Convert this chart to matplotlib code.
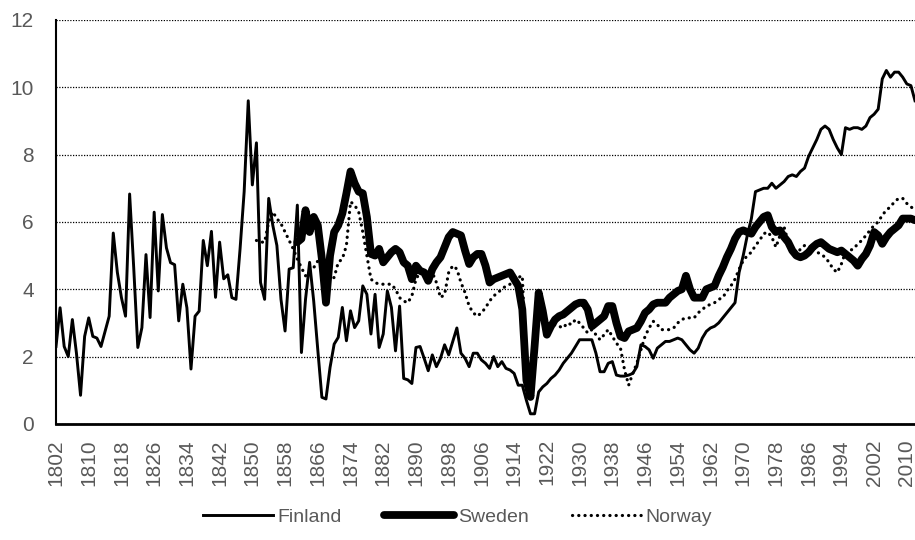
import numpy as np
import matplotlib
matplotlib.use("Agg")
import matplotlib.pyplot as plt

plt.rcParams.update({
    'font.family': ['Liberation Sans', 'DejaVu Sans'],
    'font.size': 15,
    'figure.dpi': 100,
})

TEXT_GREY = '#595959'

# yearly series, 1802-2012
first_year = 1802
last_year = 2012
years = np.arange(first_year, last_year + 1)

finland = [
    2.3, 3.45, 2.3, 2.0, 3.1, 2.1, 0.85, 2.6,            # 1802-1809
    3.15, 2.6, 2.55, 2.3, 2.75, 3.2, 5.67, 4.5, 3.75, 3.2,   # 1810s
    6.83, 4.64, 2.27, 2.86, 5.03, 3.16, 6.29, 3.95, 6.22, 5.23,  # 1820s
    4.79, 4.73, 3.06, 4.15, 3.45, 1.63, 3.2, 3.35, 5.45, 4.7,    # 1830s
    5.72, 3.76, 5.4, 4.31, 4.43, 3.75, 3.7, 5.2, 6.9, 9.6,       # 1840s
    7.1, 8.35, 4.2, 3.7, 6.7, 5.9, 5.3, 3.7, 2.76, 4.6,          # 1850s
    4.64, 6.5, 2.12, 3.7, 4.8, 3.65, 2.2, 0.79, 0.74, 1.68,      # 1860s
    2.37, 2.57, 3.46, 2.47, 3.36, 2.86, 3.06, 4.1, 3.85, 2.67,   # 1870s
    3.85, 2.27, 2.67, 3.95, 3.46, 2.17, 3.5, 1.35, 1.31, 1.2,    # 1880s
    2.27, 2.3, 1.95, 1.58, 2.05, 1.7, 1.95, 2.35, 2.05, 2.45,    # 1890s
    2.85, 2.1, 1.95, 1.7, 2.1, 2.1, 1.9, 1.8, 1.65, 2.0,         # 1900s
    1.7, 1.85, 1.65, 1.6, 1.5, 1.15, 1.15, 0.7, 0.3, 0.3,        # 1910s
    0.95, 1.1, 1.2, 1.35, 1.45, 1.6, 1.8, 1.95, 2.1, 2.3,        # 1920s
    2.5, 2.5, 2.5, 2.5, 2.1, 1.55, 1.55, 1.8, 1.85, 1.45,        # 1930s
    1.42, 1.42, 1.45, 1.5, 1.7, 2.35, 2.3, 2.2, 1.95, 2.25,      # 1940s
    2.35, 2.45, 2.45, 2.5, 2.55, 2.5, 2.35, 2.2, 2.1, 2.25,      # 1950s
    2.55, 2.75, 2.85, 2.9, 3.0, 3.15, 3.3, 3.45, 3.6, 4.5,       # 1960s
    5.0, 5.6, 6.1, 6.9, 6.95, 7.0, 7.0, 7.15, 7.0, 7.1,          # 1970s
    7.2, 7.35, 7.4, 7.35, 7.5, 7.6, 7.95, 8.2, 8.45, 8.75,       # 1980s
    8.85, 8.75, 8.45, 8.2, 8.0, 8.8, 8.75, 8.8, 8.8, 8.75,       # 1990s
    8.85, 9.1, 9.2, 9.35, 10.25, 10.5, 10.3, 10.45, 10.45, 10.3,  # 2000s
    10.1, 10.05, 9.6,                                             # 2010-2012
]

sweden_start = 1861
sweden = [
    5.4, 5.5, 6.35, 5.7, 6.15, 5.9, 4.9, 3.6, 5.0,               # 1861-1869
    5.7, 5.9, 6.25, 6.85, 7.5, 7.15, 6.9, 6.85, 6.15, 5.05,      # 1870s
    5.0, 5.2, 4.8, 4.95, 5.1, 5.2, 5.1, 4.8, 4.7, 4.3,           # 1880s
    4.7, 4.55, 4.5, 4.25, 4.6, 4.8, 4.95, 5.25, 5.55, 5.7,       # 1890s
    5.65, 5.6, 5.15, 4.75, 4.95, 5.05, 5.05, 4.7, 4.2, 4.3,      # 1900s
    4.35, 4.4, 4.45, 4.5, 4.3, 4.1, 3.4, 1.3, 0.8, 2.3,          # 1910s
    3.9, 3.35, 2.65, 2.9, 3.1, 3.2, 3.25, 3.35, 3.45, 3.55,      # 1920s
    3.6, 3.6, 3.4, 2.9, 3.0, 3.1, 3.2, 3.5, 3.5, 3.0,            # 1930s
    2.6, 2.55, 2.75, 2.8, 2.85, 3.05, 3.3, 3.4, 3.55, 3.6,       # 1940s
    3.6, 3.6, 3.75, 3.85, 3.95, 4.0, 4.4, 4.0, 3.75, 3.75,       # 1950s
    3.75, 4.0, 4.05, 4.1, 4.4, 4.65, 4.95, 5.2, 5.5, 5.7,        # 1960s
    5.75, 5.7, 5.65, 5.85, 6.0, 6.15, 6.2, 5.85, 5.7, 5.75,      # 1970s
    5.55, 5.4, 5.15, 5.0, 4.95, 5.0, 5.1, 5.25, 5.35, 5.4,       # 1980s
    5.3, 5.2, 5.15, 5.1, 5.15, 5.05, 4.95, 4.85, 4.7, 4.9,       # 1990s
    5.05, 5.3, 5.7, 5.6, 5.35, 5.55, 5.7, 5.8, 5.9, 6.1,         # 2000s
    6.1, 6.1, 6.05,                                               # 2010-2012
]

norway_start = 1851
norway = [
    5.45, 5.4, 5.4, 6.0, 6.3, 6.1, 5.95, 5.7, 5.45,              # 1851-1859
    5.2, 4.9, 4.64, 4.4, 4.55, 4.64, 4.84, 4.9, 4.6, 4.3,        # 1860s
    4.35, 4.8, 4.9, 5.3, 6.6, 6.5, 6.3, 5.7, 5.0, 4.3,           # 1870s
    4.2, 4.15, 4.15, 4.15, 4.15, 4.0, 3.75, 3.65, 3.6, 3.8,      # 1880s
    4.3, 4.5, 4.35, 4.4, 4.5, 4.2, 3.75, 3.85, 4.5, 4.7,         # 1890s
    4.6, 4.2, 3.9, 3.5, 3.3, 3.2, 3.3, 3.45, 3.65, 3.8,          # 1900s
    3.9, 4.0, 4.1, 4.15, 4.25, 4.35, 4.4, 1.5, 0.9, 2.3,         # 1910s
    3.7, 3.2, 2.7, 2.85, 2.95, 2.9, 2.85, 3.0, 2.95, 3.1,        # 1920s
    3.0, 2.85, 2.7, 2.8, 2.65, 2.5, 2.65, 2.8, 2.6, 2.4,         # 1930s
    2.25, 1.6, 1.15, 1.5, 1.8, 2.2, 2.6, 2.85, 3.05, 2.95,       # 1940s
    2.8, 2.8, 2.8, 2.85, 3.0, 3.1, 3.15, 3.15, 3.15, 3.3,        # 1950s
    3.4, 3.5, 3.55, 3.6, 3.7, 3.75, 3.95, 4.1, 4.3, 4.6,         # 1960s
    4.85, 5.0, 5.1, 5.3, 5.45, 5.65, 5.7, 5.55, 5.25, 5.6,       # 1970s
    5.85, 5.4, 5.1, 5.0, 5.2, 5.3, 5.25, 5.3, 5.1, 5.05,         # 1980s
    4.95, 4.8, 4.6, 4.5, 4.75, 5.1, 5.15, 5.2, 5.35, 5.45,       # 1990s
    5.6, 5.75, 5.9, 6.0, 6.2, 6.35, 6.45, 6.6, 6.7, 6.7,         # 2000s
    6.55, 6.45, 6.35,                                             # 2010-2012
]

y_ticks = [0, 2, 4, 6, 8, 10, 12]
x_tick_years = list(range(first_year, last_year, 8))


def pad_series(values, start):
    """Put NaN in front of a series that starts later than 1802."""
    return np.concatenate([np.full(start - first_year, np.nan), values])


fin = np.array(finland, dtype=float)
swe = pad_series(sweden, sweden_start)
nor = pad_series(norway, norway_start)
assert len(fin) == len(years) == len(swe) == len(nor)

fig = plt.figure(figsize=(9.15, 5.4))
ax = fig.add_axes([0.0612, 0.215, 0.9388, 0.748])

ax.plot(years, fin, color='black', linewidth=2.1, label='Finland',
        solid_joinstyle='round')
ax.plot(years, swe, color='black', linewidth=5.6, label='Sweden',
        solid_joinstyle='round', solid_capstyle='round')
ax.plot(years, nor, color='black', linewidth=2.3, label='Norway',
        linestyle=(0, (0.05, 1.9)), dash_capstyle='round')

ax.set_xlim(first_year, last_year)
ax.set_ylim(0, 12)
ax.set_yticks(y_ticks)
ax.set_xticks(x_tick_years)
ax.set_xticklabels([str(y) for y in x_tick_years], rotation=90)
ax.tick_params(axis='both', length=0, colors=TEXT_GREY, labelsize=15)
ax.tick_params(axis='x', pad=11)
ax.tick_params(axis='y', pad=16)

# dotted horizontal gridlines (Excel style)
ax.yaxis.grid(True, linestyle=(0, (1, 1.2)), color='black', linewidth=0.9)
ax.set_axisbelow(True)

for side in ['top', 'right']:
    ax.spines[side].set_visible(False)
ax.spines['left'].set_linewidth(1.5)
ax.spines['bottom'].set_linewidth(2.0)

leg = fig.legend(loc='center', bbox_to_anchor=(0.5, 0.042), ncol=3,
                 frameon=False, fontsize=14, handlelength=3.6,
                 handletextpad=0.2, columnspacing=2.2)
for txt in leg.get_texts():
    txt.set_color(TEXT_GREY)

fig.savefig('out.png', dpi=100)
